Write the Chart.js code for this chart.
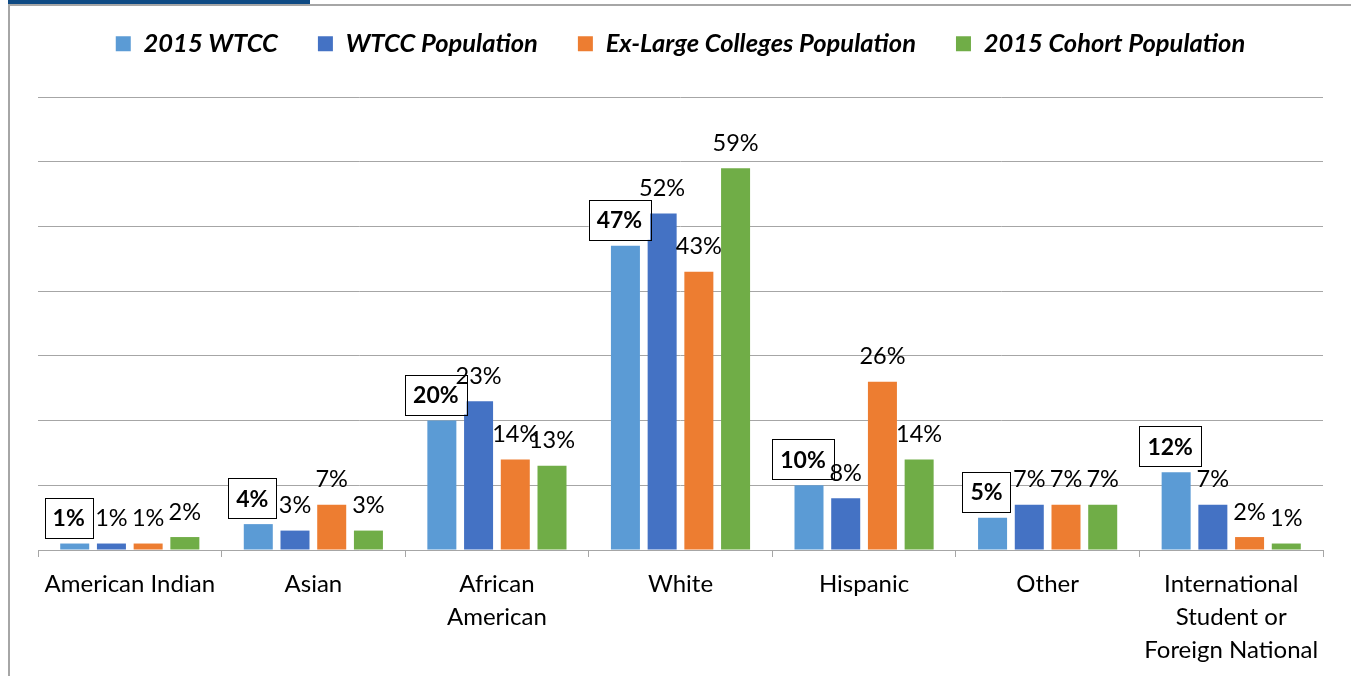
<!DOCTYPE html>
<html>
<head>
<meta charset="utf-8">
<script src="https://cdn.jsdelivr.net/npm/chart.js@4"></script>
<style>
  html, body { margin: 0; background: #fff; overflow: hidden; }
  #wrap { position: relative; width: 1351px; height: 676px; }
  #frame { position: absolute; left: 8px; top: 4px; width: 1400px; height: 700px;
           border-left: 2px solid #a6a6a6; border-top: 2px solid #a6a6a6; }
  #tab { position: absolute; left: 8px; top: 0; width: 302px; height: 4px; background: #0e4a84; }
  canvas { position: absolute; left: 0; top: 0; }
</style>
</head>
<body>
<div id="wrap">
  <div id="frame"></div>
  <div id="tab"></div>
  <canvas id="chart" width="1351" height="676"></canvas>
</div>
<script>
const categories = ['American Indian', 'Asian', ['African', 'American'], 'White', 'Hispanic', 'Other',
  ['International', 'Student or', 'Foreign National']];
const seriesNames = ['2015 WTCC', 'WTCC Population', 'Ex-Large Colleges Population', '2015 Cohort Population'];
const wtcc2015 = [1, 4, 20, 47, 10, 5, 12];
const wtccPop = [1, 3, 23, 52, 8, 7, 7];
const exLargePop = [1, 7, 14, 43, 26, 7, 2];
const cohortPop = [2, 3, 13, 59, 14, 7, 1];
const yMax = 70;
const yStep = 10;

const colors = ['#5b9bd5', '#4472c4', '#ed7d31', '#70ad47'];
const gridColor = '#a6a6a6';
const font = 'Lato';

// percent labels, first series gets a boxed bold label
const valueLabels = {
  id: 'valueLabels',
  afterDatasetsDraw(chart) {
    const ctx = chart.ctx;
    chart.data.datasets.forEach((ds, i) => {
      chart.getDatasetMeta(i).data.forEach((bar, j) => {
        const text = ds.data[j] + '%';
        ctx.save();
        ctx.textAlign = 'center';
        ctx.textBaseline = 'middle';
        ctx.fillStyle = '#000';
        if (i === 0) {
          ctx.font = `bold 23px ${font}`;
          const w = ctx.measureText(text).width + 16;
          const h = 40;
          const cx = bar.x - 6;
          const cy = bar.y - 6 - h / 2;
          ctx.fillStyle = '#fff';
          ctx.fillRect(cx - w / 2, cy - h / 2, w, h);
          ctx.strokeStyle = '#000';
          ctx.lineWidth = 1;
          ctx.strokeRect(Math.round(cx - w / 2) + 0.5, Math.round(cy - h / 2) + 0.5, Math.round(w), h);
          ctx.fillStyle = '#000';
          ctx.fillText(text, cx, cy + 1);
        } else {
          ctx.font = `23.5px ${font}`;
          ctx.fillText(text, bar.x, bar.y - 25);
        }
        ctx.restore();
      });
    });
  }
};

// keep legend at fixed height and nudge it up
const legendPlace = {
  id: 'legendPlace',
  beforeInit(chart) {
    const fit = chart.legend.fit;
    chart.legend.fit = function () {
      fit.call(this);
      this.height = 97;
    };
  },
  afterLayout(chart) {
    chart.legend.top = -9;
  }
};

new Chart(document.getElementById('chart'), {
  type: 'bar',
  data: {
    labels: categories,
    datasets: [wtcc2015, wtccPop, exLargePop, cohortPop].map((d, i) => ({
      label: seriesNames[i],
      data: d,
      backgroundColor: colors[i],
      barPercentage: 0.79,
      categoryPercentage: 0.8
    }))
  },
  options: {
    responsive: false,
    animation: false,
    layout: { padding: { left: 38, right: 28, top: 0, bottom: 0 } },
    plugins: {
      tooltip: { enabled: false },
      legend: {
        position: 'top',
        labels: {
          boxWidth: 15,
          boxHeight: 15,
          padding: 40,
          color: '#000',
          font: { family: font, size: 25.5, weight: 'bold', style: 'italic' }
        }
      }
    },
    scales: {
      x: {
        grid: { display: true, drawOnChartArea: false, drawTicks: true, tickLength: 7, color: gridColor, offset: true },
        border: { color: gridColor },
        ticks: {
          color: '#000',
          padding: 11,
          maxRotation: 0,
          autoSkip: false,
          font: { family: font, size: 24, lineHeight: 1.375 }
        },
        afterFit(scale) { scale.height = 126; }
      },
      y: {
        min: 0,
        max: yMax,
        ticks: { display: false, stepSize: yStep },
        border: { display: false },
        grid: { color: gridColor, drawTicks: false },
        afterFit(scale) { scale.width = 0; }
      }
    }
  },
  plugins: [valueLabels, legendPlace]
});
</script>
</body>
</html>
